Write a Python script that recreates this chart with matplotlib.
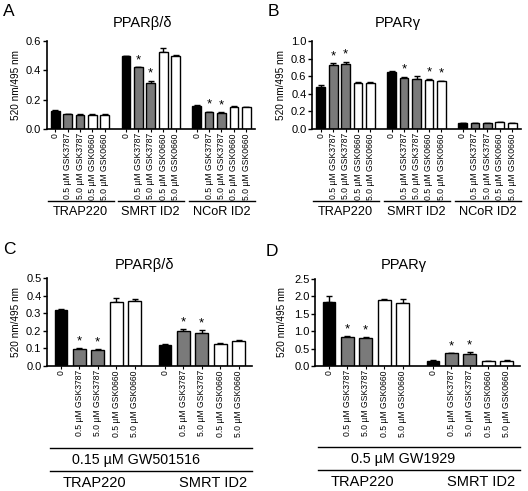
import numpy as np
import matplotlib.pyplot as plt
from matplotlib.transforms import blended_transform_factory

plt.rcParams['font.family'] = ['Liberation Sans', 'DejaVu Sans']

# tratamientos (etiquetas del eje x)
conds = ['0', '0.5 µM GSK3787', '5.0 µM GSK3787', '0.5 µM GSK0660', '5.0 µM GSK0660']
colores = ['black', '#7a7a7a', '#7a7a7a', 'white', 'white']

# Panel A: PPARb/d
grupos_A = ['TRAP220', 'SMRT ID2', 'NCoR ID2']
val_A = [[0.125, 0.100, 0.097, 0.098, 0.098],
         [0.495, 0.420, 0.315, 0.525, 0.497],
         [0.160, 0.115, 0.110, 0.152, 0.150]]
err_A = [[0.005, 0.002, 0.002, 0.002, 0.002],
         [0.005, 0.003, 0.015, 0.030, 0.005],
         [0.003, 0.003, 0.003, 0.002, 0.002]]
sig_A = [[], [1, 2], [1, 2]]

# Panel B: PPARg
grupos_B = ['TRAP220', 'SMRT ID2', 'NCoR ID2']
val_B = [[0.480, 0.725, 0.735, 0.520, 0.525],
         [0.650, 0.580, 0.565, 0.555, 0.540],
         [0.070, 0.070, 0.070, 0.075, 0.068]]
err_B = [[0.025, 0.020, 0.030, 0.010, 0.005],
         [0.010, 0.015, 0.040, 0.008, 0.008],
         [0.002, 0.002, 0.002, 0.008, 0.002]]
sig_B = [[1, 2], [1, 3, 4], []]

# Panel C: PPARb/d + GW501516
grupos_C = ['TRAP220', 'SMRT ID2']
val_C = [[0.320, 0.098, 0.092, 0.365, 0.367],
         [0.122, 0.198, 0.190, 0.125, 0.143]]
err_C = [[0.005, 0.002, 0.002, 0.022, 0.015],
         [0.002, 0.010, 0.012, 0.007, 0.003]]
sig_C = [[1, 2], [1, 2]]

# Panel D: PPARg + GW1929
grupos_D = ['TRAP220', 'SMRT ID2']
val_D = [[1.85, 0.83, 0.81, 1.90, 1.82],
         [0.15, 0.36, 0.35, 0.13, 0.15]]
err_D = [[0.17, 0.02, 0.02, 0.03, 0.10],
         [0.01, 0.01, 0.05, 0.01, 0.01]]
sig_D = [[1, 2], [1, 2]]

W, H = 528, 491
fig = plt.figure(figsize=(W / 100, H / 100), dpi=100)


def rect(x0, x1, y_top, y_bot):
    return [x0 / W, (H - y_bot) / H, (x1 - x0) / W, (y_bot - y_top) / H]


def panel(r, vals, errs, sigs, ymax, ystep, xlim, paso):
    ax = fig.add_axes(r)
    pos_all, lab_all = [], []
    for g, (v, e, s) in enumerate(zip(vals, errs, sigs)):
        x = g * paso + np.arange(len(v))
        ax.bar(x, v, width=0.7, color=colores, edgecolor='black', linewidth=1, zorder=2)
        ax.errorbar(x, v, yerr=[np.zeros(len(v)), e], fmt='none', ecolor='black',
                    elinewidth=1, capsize=2.4, capthick=1, zorder=1)
        for i in s:
            ax.text(x[i], v[i] + e[i] + ymax * 0.01, '*', ha='center', va='bottom', fontsize=9.5)
        pos_all += list(x)
        lab_all += conds
    ax.set_xticks(pos_all)
    ax.set_xticklabels(lab_all, rotation=90, fontsize=6.2)
    ax.set_xlim(*xlim)
    ax.set_ylim(0, ymax)
    ax.set_yticks(np.arange(0, ymax + 1e-9, ystep))
    ax.yaxis.set_major_formatter(plt.FormatStrFormatter('%.1f'))
    ax.tick_params(axis='y', labelsize=8, length=3, width=1, pad=1)
    ax.tick_params(axis='x', length=2, width=0.8, pad=1)
    for sp in ['top', 'right']:
        ax.spines[sp].set_visible(False)
    for sp in ['left', 'bottom']:
        ax.spines[sp].set_linewidth(1.2)
    return ax


def linea(ax, x0, x1, y):
    tr = blended_transform_factory(ax.transData, ax.transAxes)
    ax.plot([x0, x1], [y, y], color='black', lw=1, transform=tr, clip_on=False)


def texto(ax, x, y, s, fs=9.2):
    tr = blended_transform_factory(ax.transData, ax.transAxes)
    ax.text(x, y, s, transform=tr, ha='center', va='center', fontsize=fs)


# A
axA = panel(rect(46.5, 255, 41, 129), val_A, err_A, sig_A, 0.6, 0.2, (-0.7, 16.1), 5.7)
for g, nom in enumerate(grupos_A):
    linea(axA, g * 5.7 - 0.6, g * 5.7 + 4.7, -0.82)
    texto(axA, g * 5.7 + 2, -0.94, nom)

# B
axB = panel(rect(312, 521, 41, 129), val_B, err_B, sig_B, 1.0, 0.2, (-0.7, 16.1), 5.7)
for g, nom in enumerate(grupos_B):
    linea(axB, g * 5.7 - 0.6, g * 5.7 + 4.7, -0.82)
    texto(axB, g * 5.7 + 2, -0.94, nom)

# C
axC = panel(rect(47, 252, 278, 366), val_C, err_C, sig_C, 0.5, 0.1, (-0.76, 10.38), 5.65)
linea(axC, -0.6, 10.38, -0.93)
texto(axC, 4.05, -1.065, '0.15 µM GW501516', fs=10.3)
linea(axC, -0.6, 10.38, -1.19)
texto(axC, 1.8, -1.33, grupos_C[0], fs=10.5)
texto(axC, 5.65 + 2.6, -1.33, grupos_C[1], fs=10.5)

# D
axD = panel(rect(315, 520, 279, 366), val_D, err_D, sig_D, 2.5, 0.5, (-0.76, 10.38), 5.65)
linea(axD, -0.6, 10.38, -0.93)
texto(axD, 4.05, -1.065, '0.5 µM GW1929', fs=10.3)
linea(axD, -0.6, 10.38, -1.19)
texto(axD, 1.8, -1.33, grupos_D[0], fs=10.5)
texto(axD, 5.65 + 2.6, -1.33, grupos_D[1], fs=10.5)

# titulos, etiquetas del eje y y letras de panel
for (x, y, s) in [(143, 23, 'PPARβ/δ'), (398, 23, 'PPARγ'), (144, 265, 'PPARβ/δ'), (404, 265, 'PPARγ')]:
    fig.text(x / W, 1 - y / H, s, ha='center', va='center', fontsize=10.5)
for (x, y) in [(16, 85), (281, 85), (16, 322), (282, 322)]:
    fig.text(x / W, 1 - y / H, '520 nm/495 nm', rotation=90, ha='center', va='center', fontsize=7.2)
for (x, y, s) in [(9, 11, 'A'), (273, 11, 'B'), (9, 250, 'C'), (272, 251, 'D')]:
    fig.text(x / W, 1 - y / H, s, ha='center', va='center', fontsize=12.5)

fig.savefig('out.png', dpi=100)
